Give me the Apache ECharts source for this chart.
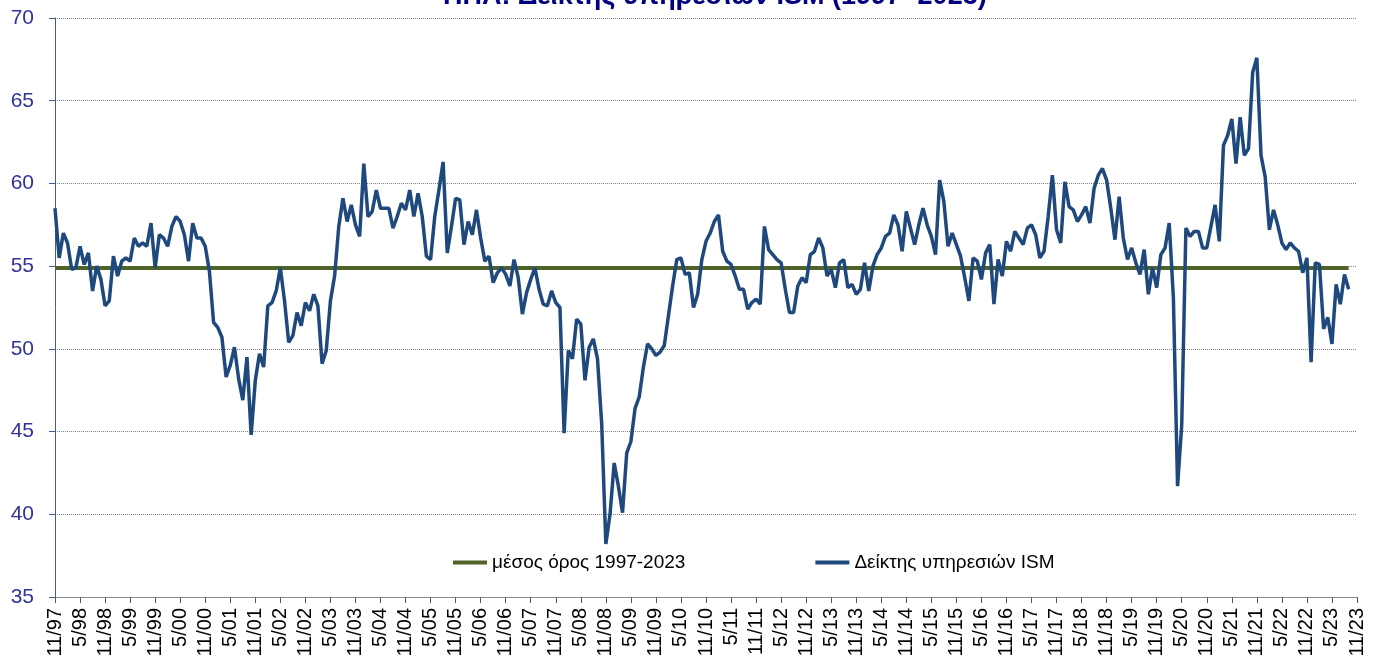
<!DOCTYPE html>
<html>
<head>
<meta charset="utf-8">
<title>ΗΠΑ: Δείκτης υπηρεσιών ISM</title>
<script src="https://cdn.jsdelivr.net/npm/echarts@6/dist/echarts.min.js"></script>
<style>
    html, body { margin: 0; padding: 0; background: #fff; }
    #chart { width: 1381px; height: 662px; }
</style>
</head>
<body>
<div id="chart"></div>
<script>
// monthly ISM services index, first value = 11/97
var ism1997_2002 = [58.5, 55.5, 57.0, 56.4, 54.8, 54.9, 56.2, 55.1, 55.8, 53.5, 55.0, 54.2, 52.6, 52.9, 55.6, 54.4,
    55.3, 55.5, 55.3, 56.7, 56.2, 56.4, 56.2, 57.6, 54.9, 56.9, 56.7, 56.2, 57.4, 58.0, 57.7, 56.9, 55.3, 57.6,
    56.7, 56.7, 56.2, 54.7, 51.6, 51.3, 50.7, 48.3, 49.0, 50.1, 48.2, 46.9, 49.5, 44.8, 48.1, 49.7, 48.9, 52.6,
    52.8, 53.5, 54.9, 52.9, 50.4, 50.8, 52.2];
var ism2002_2006 = [51.4, 52.8, 52.3, 53.3, 52.6, 49.1, 49.9, 52.9, 54.4, 57.4, 59.1, 57.7, 58.7, 57.5, 56.8, 61.2,
    58.0, 58.3, 59.6, 58.5, 58.5, 58.5, 57.3, 58.0, 58.8, 58.4, 59.6, 58.0, 59.4, 58.0, 55.6, 55.4, 58.0, 59.6,
    61.3, 55.8, 57.4, 59.1, 59.0, 56.3];
var ism2006_2009 = [57.7, 56.9, 58.4, 56.7, 55.3, 55.6, 54.0, 54.6, 54.9, 54.5, 53.8, 55.4, 54.3, 52.1, 53.4, 54.2,
    54.9, 53.6, 52.7, 52.6, 53.5, 52.8, 52.5, 44.9, 49.9, 49.4, 51.8, 51.5, 48.1, 50.1, 50.6, 49.4, 45.5, 38.2,
    40.0, 43.1, 41.7, 40.1, 43.7, 44.4, 46.4, 47.1, 48.9, 50.3, 50.0, 49.6, 49.8, 50.2, 52.0, 53.8];
var ism2010_2013 = [55.4, 55.5, 54.5, 54.6, 52.5, 53.3, 55.4, 56.5, 57.0, 57.7, 58.1, 55.9, 55.3, 55.1, 54.4, 53.6,
    53.6, 52.4, 52.8, 53.0, 52.7, 57.4, 56.0, 55.7, 55.4, 55.2, 53.6, 52.2, 52.2, 53.8, 54.3, 54.0, 55.7, 55.9];
var ism2013_2016 = [56.7, 56.1, 54.4, 54.8, 53.7, 55.2, 55.4, 53.7, 53.9, 53.3, 53.6, 55.2, 53.5, 55.0, 55.7, 56.1,
    56.8, 57.0, 58.1, 57.5, 55.9, 58.3, 57.3, 56.3, 57.5, 58.5, 57.5, 56.8, 55.7, 60.2, 58.9, 56.2, 57.0, 56.3,
    55.6, 54.3, 52.9, 55.5, 55.3, 54.2, 55.8, 56.3, 52.7, 55.4];
var ism2016_2020 = [54.4, 56.5, 55.9, 57.1, 56.7, 56.3, 57.3, 57.5, 56.9, 55.5, 55.9, 58.0, 60.5, 57.2, 56.4, 60.1,
    58.6, 58.4, 57.7, 58.1, 58.6, 57.6, 59.7, 60.5, 60.9, 60.2, 58.5, 56.6, 59.2, 56.7, 55.4, 56.1, 55.2, 54.5,
    56.0, 53.3, 54.9, 53.7, 55.7, 56.1, 57.6];
var ism2020_2023 = [53.1, 41.7, 45.4, 57.3, 56.8, 57.1, 57.1, 56.1, 56.1, 57.4, 58.7, 56.5, 62.3, 62.9, 63.9, 61.2,
    64.0, 61.7, 62.1, 66.7, 67.6, 61.7, 60.4, 57.2, 58.4, 57.5, 56.4, 56.0, 56.4, 56.1, 55.9, 54.6, 55.5, 49.2,
    55.2, 55.1, 51.2, 51.9, 50.3, 53.9, 52.7, 54.5, 53.6];

var avgLevel = 54.9; // μέσος όρος 1997-2023
var startYear = 1997;
var startMonth = 11;
var monthCount = 313; // 11/97 ... 11/23

var ismValues = [].concat(ism1997_2002, ism2002_2006, ism2006_2009, ism2010_2013,
    ism2013_2016, ism2016_2020, ism2020_2023);

// category labels m/yy
var months = [];
for (var i = 0; i < monthCount; i++) {
    var k = startMonth - 1 + i;
    months.push((k % 12 + 1) + '/' + String(startYear + Math.floor(k / 12)).slice(2));
}

var font = "'Liberation Sans', Arial, sans-serif";
var chart = echarts.init(document.getElementById('chart'));

var option = {
    animation: false,
    backgroundColor: '#ffffff',
    title: {
        text: 'ΗΠΑ: Δείκτης υπηρεσιών ISM (1997- 2023)',
        left: 438,
        top: -22,
        textStyle: {
            fontFamily: font,
            fontSize: 27,
            fontWeight: 'bold',
            color: '#000080'
        }
    },
    legend: {
        left: 448,
        top: 548,
        itemGap: 130,
        itemWidth: 34,
        itemHeight: 4,
        icon: 'rect',
        textStyle: { fontFamily: font, fontSize: 19, color: '#000', padding: [0, 0, 0, 0] },
        data: ['μέσος όρος 1997-2023', 'Δείκτης υπηρεσιών ISM']
    },
    grid: {
        left: 55,
        right: 24,
        top: 18,
        bottom: 65,
        containLabel: false,
        outerBoundsMode: 'none'
    },
    xAxis: {
        type: 'category',
        data: months,
        boundaryGap: false,
        axisLine: { lineStyle: { color: '#8c8c8c', width: 1 } },
        axisTick: { interval: 5, length: 6, lineStyle: { color: '#555' } },
        axisLabel: {
            interval: 5,
            rotate: 90,
            margin: 11,
            fontFamily: font,
            fontSize: 20,
            color: '#000'
        },
        splitLine: { show: false }
    },
    yAxis: {
        type: 'value',
        min: 35,
        max: 70,
        interval: 5,
        axisLine: { show: true, lineStyle: { color: '#3d5f96', width: 1 } },
        axisTick: { show: true, length: 6, lineStyle: { color: '#3d5f96' } },
        axisLabel: {
            margin: 21,
            fontFamily: font,
            fontSize: 21,
            color: '#333399'
        },
        splitLine: { lineStyle: { color: '#808080', type: 'dotted', width: 1 } }
    },
    series: [
        {
            name: 'μέσος όρος 1997-2023',
            type: 'line',
            symbol: 'none',
            z: 2,
            data: [],
            itemStyle: { color: '#4f6228' },
            lineStyle: { color: '#4f6228', width: 4 },
            markLine: {
                silent: true,
                symbol: ['none', 'none'],
                label: { show: false },
                lineStyle: { color: '#4f6228', width: 4, type: 'solid' },
                data: [[
                    { coord: [months[0], avgLevel] },
                    { coord: [months[ismValues.length - 1], avgLevel] }
                ]]
            }
        },
        {
            name: 'Δείκτης υπηρεσιών ISM',
            type: 'line',
            symbol: 'none',
            z: 5,
            data: ismValues,
            itemStyle: { color: '#1f497d' },
            lineStyle: { color: '#1f497d', width: 3.5 }
        }
    ]
};

chart.setOption(option);
</script>
</body>
</html>
